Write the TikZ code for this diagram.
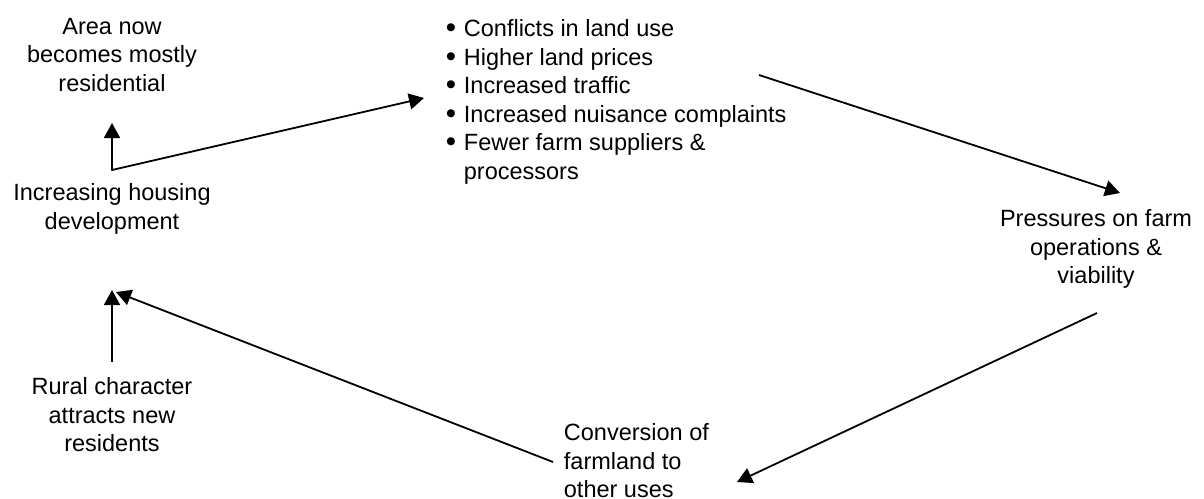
\documentclass[tikz,border=0pt]{standalone}
\usepackage{fontspec}
\setmainfont{Liberation Sans}
\usetikzlibrary{arrows.meta}
\newcommand\blt{\makebox[9pt][l]{\raisebox{-0.3pt}{\scalebox{1.25}{\textbullet}}}}
\begin{document}
\begin{tikzpicture}[x=0.5pt,y=-0.5pt,>={Triangle[length=7.5pt,width=8pt]},line width=0.9pt,line join=round,
txt/.style={inner sep=0pt,align=center,font=\fontsize{11.75}{14.25}\selectfont}]
\useasboundingbox (0,0) rectangle (1204,498);
\path 
(112,170) coordinate (fork)
(112,123) coordinate (areatip)
(424,98) coordinate (listtip)
(759,75) coordinate (listend)
(1120,193) coordinate (presstip)
(1097,313) coordinate (pressend)
(737,482) coordinate (convtip)
(553,462) coordinate (convend)
(116,292) coordinate (housetip)
(112,290) coordinate (ruraltip)
(112,362) coordinate (ruralend)
;
\node[txt] (area) at (112,55) {Area now\\becomes mostly\\residential};
\node[txt] (housing) at (112,209) {Increasing housing\\development};
\node[txt] (rural) at (112,415) {Rural character\\attracts new\\residents};
\node[txt,anchor=west,align=left] (conv) at (563,461) {Conversion of\\farmland to\\other uses};
\node[txt] (press) at (1096,249) {Pressures on farm\\operations \&\\viability};
\node[txt,anchor=north west,align=left] (effects) at (445,19) {%
\blt Conflicts in land use\\
\blt Higher land prices\\
\blt Increased traffic\\
\blt Increased nuisance complaints\\
\blt Fewer farm suppliers \&\\
\hspace*{9pt}processors};
\draw[<->] (areatip)--(fork)--(listtip);
\foreach\p/\q in {listend/presstip, pressend/convtip, convend/housetip, ruralend/ruraltip}
\draw[->] (\p)--(\q);
\end{tikzpicture}
\end{document}
